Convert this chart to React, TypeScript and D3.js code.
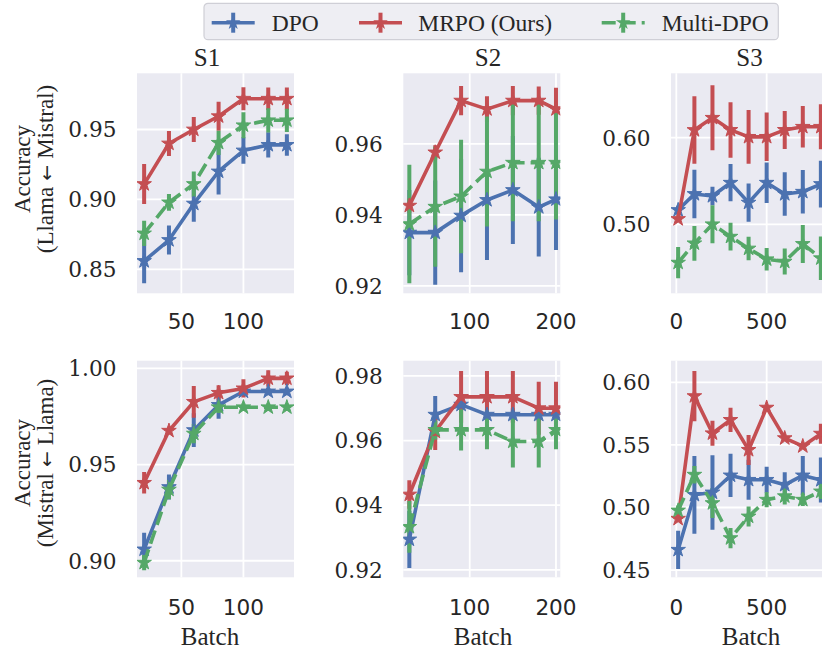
import React from 'react';
import * as d3 from 'd3';

// ---------- data ----------
const seriesNames = ['DPO', 'MRPO (Ours)', 'Multi-DPO'];
const seriesColors = ['#4C72B0', '#C44E52', '#55A868'];
const titles = ['S1', 'S2', 'S3'];
const rowLabels = [['Accuracy', '(Llama', 'Mistral)'], ['Accuracy', '(Mistral', 'Llama)']];
const arrowGlyph = '\u2190';
const xLabel = 'Batch';

const batchS1 = [20, 40, 60, 80, 100, 120, 135];
const batchS2 = [30, 60, 90, 120, 150, 180, 200];
const batchS3 = [10, 100, 200, 300, 400, 500, 600, 700, 800];

const xTicksS1 = [50, 100];
const xTicksS2 = [100, 200];
const xTicksS3 = [0, 500];
const yTicksTopS1 = [0.85, 0.9, 0.95];
const yTicksTopS2 = [0.92, 0.94, 0.96];
const yTicksTopS3 = [0.5, 0.6];
const yTicksBotS1 = [0.9, 0.95, 1.0];
const yTicksBotS2 = [0.92, 0.94, 0.96, 0.98];
const yTicksBotS3 = [0.45, 0.5, 0.55, 0.6];

// Top row (Llama <- Mistral)
const dpoTopS1 = [0.856, 0.871, 0.897, 0.92, 0.935, 0.939, 0.939];
const dpoTopS1Err = [0.016, 0.0104, 0.013, 0.0164, 0.0095, 0.009, 0.0077];
const mrpoTopS1 = [0.911, 0.94, 0.95, 0.9595, 0.972, 0.972, 0.972];
const mrpoTopS1Err = [0.0143, 0.009, 0.009, 0.0104, 0.0083, 0.008, 0.008];
const multiTopS1 = [0.8757, 0.8979, 0.911, 0.9405, 0.953, 0.9566, 0.9566];
const multiTopS1Err = [0.009, 0.006, 0.009, 0.0087, 0.0093, 0.0087, 0.0083];

const dpoTopS2 = [0.935, 0.935, 0.9398, 0.9442, 0.947, 0.9422, 0.9444];
const dpoTopS2Err = [0.012, 0.0147, 0.016, 0.0169, 0.0152, 0.0139, 0.0143];
const mrpoTopS2 = [0.9426, 0.9576, 0.9722, 0.9698, 0.9722, 0.9722, 0.9698];
const mrpoTopS2Err = [0.002, 0.002, 0.0041, 0.0036, 0.0041, 0.004, 0.006];
const multiTopS2 = [0.9374, 0.9423, 0.9452, 0.9522, 0.9547, 0.9547, 0.9547];
const multiTopS2Err = [0.0167, 0.0169, 0.016, 0.0155, 0.0165, 0.0165, 0.016];

const dpoTopS3 = [0.5165, 0.535, 0.5327, 0.548, 0.525, 0.548, 0.535, 0.5376, 0.5465];
const dpoTopS3Err = [0.005, 0.028, 0.0106, 0.0215, 0.022, 0.0235, 0.025, 0.025, 0.027];
const mrpoTopS3 = [0.5061, 0.6089, 0.623, 0.609, 0.601, 0.601, 0.609, 0.6126, 0.6126];
const mrpoTopS3Err = [0.003, 0.039, 0.0375, 0.032, 0.031, 0.028, 0.022, 0.024, 0.026];
const multiTopS3 = [0.4557, 0.478, 0.5, 0.4857, 0.472, 0.4596, 0.4569, 0.4773, 0.4608];
const multiTopS3Err = [0.018, 0.02, 0.022, 0.016, 0.0135, 0.013, 0.015, 0.022, 0.025];

// Bottom row (Mistral <- Llama)
const dpoBotS1 = [0.9059, 0.9383, 0.9679, 0.981, 0.988, 0.988, 0.988];
const dpoBotS1Err = [0.0087, 0.0065, 0.0088, 0.0072, 0.002, 0.002, 0.002];
const mrpoBotS1 = [0.9405, 0.9676, 0.9826, 0.9873, 0.9896, 0.9948, 0.9948];
const mrpoBotS1Err = [0.0056, 0.002, 0.0082, 0.004, 0.0047, 0.0043, 0.0035];
const multiBotS1 = [0.899, 0.937, 0.9661, 0.9798, 0.9798, 0.9798, 0.9798];
const multiBotS1Err = [0.004, 0.005, 0.005, 0.003, 0.002, 0.002, 0.002];

const dpoBotS2 = [0.9294, 0.968, 0.9711, 0.968, 0.968, 0.968, 0.968];
const dpoBotS2Err = [0.0088, 0.0058, 0.002, 0.002, 0.002, 0.002, 0.002];
const mrpoBotS2 = [0.9433, 0.9628, 0.9735, 0.9735, 0.9735, 0.97, 0.97];
const mrpoBotS2Err = [0.0044, 0.0057, 0.008, 0.008, 0.008, 0.0082, 0.0082];
const multiBotS2 = [0.9333, 0.9633, 0.9633, 0.9633, 0.9597, 0.9597, 0.9633];
const multiBotS2Err = [0.008, 0.003, 0.0064, 0.006, 0.008, 0.008, 0.006];

const dpoBotS3 = [0.4662, 0.5101, 0.512, 0.5256, 0.5221, 0.5221, 0.5181, 0.5256, 0.522];
const dpoBotS3Err = [0.0153, 0.031, 0.0297, 0.0173, 0.016, 0.0104, 0.01, 0.0156, 0.018];
const mrpoBotS3 = [0.491, 0.589, 0.5593, 0.57, 0.546, 0.5798, 0.5554, 0.549, 0.559];
const mrpoBotS3Err = [0.002, 0.02, 0.01, 0.0097, 0.012, 0.002, 0.002, 0.002, 0.008];
const multiBotS3 = [0.4976, 0.5262, 0.5035, 0.4755, 0.4928, 0.5062, 0.509, 0.5062, 0.5128];
const multiBotS3Err = [0.004, 0.007, 0.012, 0.008, 0.008, 0.006, 0.0066, 0.005, 0.006];

// ---------- layout ----------
const W = 822;
const H = 649;
const colLeft = [137, 403.3, 671];
const panelW = 157;
const rowTop = [73.3, 360.7];
const rowH = [220, 216.6];
const xDomains = [[14.25, 140.75], [23, 205], [-29.5, 839.5]];
const yDomains = [
  [[0.8329, 0.9902], [0.9179, 0.9799], [0.4203, 0.6744]],
  [[0.8914, 1.004], [0.9177, 0.9847], [0.4442, 0.6173]],
];
const titleX = [207, 488, 749.5];
const xLabelX = [210, 483, 751];
const xTickBaseline = [328.5, 615];
const yLabelCenter = [169, 463];

const BG = '#EAEAF2';
const TXT = '#262626';
const SERIF = '"Liberation Serif", "Times New Roman", serif';
const TICK_SERIF = '"DejaVu Serif", serif';
const TICK_SANS = '"DejaVu Sans", sans-serif';

type Panel = {
  row: number;
  col: number;
  xs: number[];
  xTicks: number[];
  yTicks: number[];
  series: [number[], number[]][];
};

const panels: Panel[] = [
  { row: 0, col: 0, xs: batchS1, xTicks: xTicksS1, yTicks: yTicksTopS1,
    series: [[dpoTopS1, dpoTopS1Err], [mrpoTopS1, mrpoTopS1Err], [multiTopS1, multiTopS1Err]] },
  { row: 0, col: 1, xs: batchS2, xTicks: xTicksS2, yTicks: yTicksTopS2,
    series: [[dpoTopS2, dpoTopS2Err], [mrpoTopS2, mrpoTopS2Err], [multiTopS2, multiTopS2Err]] },
  { row: 0, col: 2, xs: batchS3, xTicks: xTicksS3, yTicks: yTicksTopS3,
    series: [[dpoTopS3, dpoTopS3Err], [mrpoTopS3, mrpoTopS3Err], [multiTopS3, multiTopS3Err]] },
  { row: 1, col: 0, xs: batchS1, xTicks: xTicksS1, yTicks: yTicksBotS1,
    series: [[dpoBotS1, dpoBotS1Err], [mrpoBotS1, mrpoBotS1Err], [multiBotS1, multiBotS1Err]] },
  { row: 1, col: 1, xs: batchS2, xTicks: xTicksS2, yTicks: yTicksBotS2,
    series: [[dpoBotS2, dpoBotS2Err], [mrpoBotS2, mrpoBotS2Err], [multiBotS2, multiBotS2Err]] },
  { row: 1, col: 2, xs: batchS3, xTicks: xTicksS3, yTicks: yTicksBotS3,
    series: [[dpoBotS3, dpoBotS3Err], [mrpoBotS3, mrpoBotS3Err], [multiBotS3, multiBotS3Err]] },
];

const starPath = d3.symbol().type(d3.symbolStar).size(66)() as string;
const fmt2 = d3.format('.2f');

function PanelView({ p }: { p: Panel }) {
  const left = colLeft[p.col];
  const top = rowTop[p.row];
  const h = rowH[p.row];
  const x = d3.scaleLinear().domain(xDomains[p.col]).range([left, left + panelW]);
  const y = d3.scaleLinear().domain(yDomains[p.row][p.col]).range([top + h, top]);
  const clipId = `clip-${p.row}-${p.col}`;
  const line = d3.line<number>().x((_, i) => x(p.xs[i])).y((v) => y(v));
  return (
    <g>
      <defs>
        <clipPath id={clipId}>
          <rect x={left} y={top} width={panelW} height={h} />
        </clipPath>
      </defs>
      <rect x={left} y={top} width={panelW} height={h} fill={BG} />
      {p.xTicks.map((t) => (
        <line key={'gx' + t} x1={x(t)} x2={x(t)} y1={top} y2={top + h} stroke="#fff" strokeWidth={1.8} />
      ))}
      {p.yTicks.map((t) => (
        <line key={'gy' + t} x1={left} x2={left + panelW} y1={y(t)} y2={y(t)} stroke="#fff" strokeWidth={1.8} />
      ))}
      <g clipPath={`url(#${clipId})`}>
        {p.series.map(([vals, errs], si) => (
          <g key={'e' + si}>
            {vals.map((v, i) => (
              <line key={i} x1={x(p.xs[i])} x2={x(p.xs[i])} y1={y(v - errs[i])} y2={y(v + errs[i])}
                stroke={seriesColors[si]} strokeWidth={4} />
            ))}
          </g>
        ))}
        {p.series.map(([vals], si) => (
          <g key={'l' + si}>
            <path d={line(vals) as string} fill="none" stroke={seriesColors[si]} strokeWidth={3.6}
              strokeLinejoin="round" strokeDasharray={si === 2 ? '14,6' : undefined} />
            {vals.map((v, i) => (
              <path key={i} d={starPath} transform={`translate(${x(p.xs[i])},${y(v)})`} fill={seriesColors[si]}
                stroke={seriesColors[si]} strokeWidth={1} />
            ))}
          </g>
        ))}
      </g>
      {p.yTicks.map((t) => (
        <text key={'ty' + t} x={left - 20.6} y={y(t) + 7.9} textAnchor="end" fontFamily={TICK_SERIF}
          fontSize={21.6} fill={TXT}>{fmt2(t)}</text>
      ))}
      {p.xTicks.map((t) => (
        <text key={'tx' + t} x={x(t)} y={xTickBaseline[p.row]} textAnchor="middle" fontFamily={TICK_SANS}
          fontSize={21.6} fill={TXT}>{String(t)}</text>
      ))}
    </g>
  );
}

function Legend() {
  const cy = 22.7;
  const items = [
    { x0: 211.7, tx: 271.7 },
    { x0: 359, tx: 418.3 },
    { x0: 601.7, tx: 661.7 },
  ];
  return (
    <g>
      <rect x={204} y={3.3} width={574.3} height={36.4} rx={4} fill="#EEEEF3" stroke="#CFCFD6" strokeWidth={1.2} />
      {items.map((it, si) => (
        <g key={si}>
          <line x1={it.x0} x2={it.x0 + 43} y1={cy} y2={cy} stroke={seriesColors[si]} strokeWidth={3.6}
            strokeDasharray={si === 2 ? '14,6' : undefined} />
          <line x1={it.x0 + 21.5} x2={it.x0 + 21.5} y1={cy - 10} y2={cy + 10} stroke={seriesColors[si]} strokeWidth={4} />
          <path d={starPath} transform={`translate(${it.x0 + 21.5},${cy})`} fill={seriesColors[si]} />
          <text x={it.tx} y={30.7} fontFamily={SERIF} fontSize={23.5} fill={TXT}>{seriesNames[si]}</text>
        </g>
      ))}
    </g>
  );
}

export default function App() {
  return (
    <svg width={W} height={H} style={{ position: 'absolute', left: 0, top: 0, background: '#fff' }}>
      <rect x={0} y={0} width={W} height={H} fill="#fff" />
      {panels.map((p) => (
        <PanelView key={`${p.row}-${p.col}`} p={p} />
      ))}
      {titles.map((t, i) => (
        <text key={t} x={titleX[i]} y={66} textAnchor="middle" fontFamily={SERIF} fontSize={25} fill={TXT}>{t}</text>
      ))}
      {xLabelX.map((cx, i) => (
        <text key={'xl' + i} x={cx} y={645} textAnchor="middle" fontFamily={SERIF} fontSize={25} fill={TXT}>{xLabel}</text>
      ))}
      {rowLabels.map((lines, r) => (
        <g key={'yl' + r}>
          <text transform={`translate(30,${yLabelCenter[r]}) rotate(-90)`} textAnchor="middle" fontFamily={SERIF}
            fontSize={23} fill={TXT}>{lines[0]}</text>
          <text transform={`translate(53,${yLabelCenter[r]}) rotate(-90)`} textAnchor="middle" fontFamily={SERIF}
            fontSize={23} fill={TXT}>
            {lines[1]}
            <tspan fontFamily={TICK_SANS} fontSize={19}>{' ' + arrowGlyph + ' '}</tspan>
            {lines[2]}
          </text>
        </g>
      ))}
      <Legend />
    </svg>
  );
}
